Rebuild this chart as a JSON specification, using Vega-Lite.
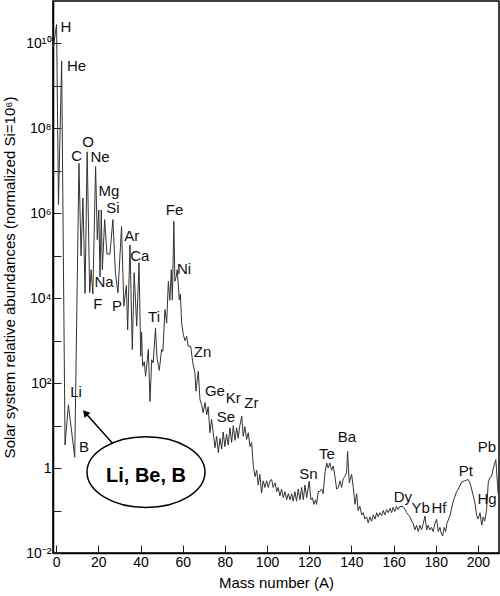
{
  "$schema": "https://vega.github.io/schema/vega-lite/v6.json",
  "width": 446,
  "height": 552,
  "autosize": {"type": "none"},
  "padding": {"left": 53, "top": 1, "right": 1, "bottom": 43},
  "background": "white",
  "config": {
    "view": {"stroke": "#000", "strokeWidth": 1.5},
    "font": "Liberation Sans",
    "axis": {"grid": false, "domainColor": "#000", "domainWidth": 1.5, "tickColor": "#222", "labelColor": "#000", "titleColor": "#000", "labelFont": "Liberation Sans", "titleFont": "Liberation Sans", "titleFontWeight": "normal"}
  },
  "datasets": {
    "curve": [
      {"A": -1.3, "abundance": 8.3e9}, {"A": 0.2, "abundance": 2.8e10}, {"A": 1.1, "abundance": 1.6e6}, {"A": 2.6, "abundance": 3.9e9},
      {"A": 4.2, "abundance": 3.5}, {"A": 5.8, "abundance": 31}, {"A": 8.8, "abundance": 1.8}, {"A": 10.8, "abundance": 1.5e7},
      {"A": 11.8, "abundance": 1e5}, {"A": 12.7, "abundance": 2.3e6}, {"A": 13.7, "abundance": 1.3e4}, {"A": 14.7, "abundance": 2.8e7},
      {"A": 15.9, "abundance": 1.35e4}, {"A": 16.6, "abundance": 4.7e4}, {"A": 17.4, "abundance": 1.26e4}, {"A": 18.7, "abundance": 1.26e7},
      {"A": 19.5, "abundance": 2.4e5}, {"A": 20.2, "abundance": 1.2e6}, {"A": 20.8, "abundance": 3.2e4}, {"A": 21.4, "abundance": 1.2e6},
      {"A": 21.9, "abundance": 4.7e4}, {"A": 23.0, "abundance": 7.1e5}, {"A": 24.1, "abundance": 1.1e5}, {"A": 25.5, "abundance": 1.1e5},
      {"A": 26.9, "abundance": 7.1e5}, {"A": 28.1, "abundance": 4e4}, {"A": 29.3, "abundance": 1.35e4}, {"A": 31.0, "abundance": 4.9e5},
      {"A": 32.1, "abundance": 6.5e3}, {"A": 33.3, "abundance": 2e4}, {"A": 33.9, "abundance": 1.8e3}, {"A": 35.0, "abundance": 1.8e5},
      {"A": 36.1, "abundance": 620}, {"A": 37.0, "abundance": 4e4}, {"A": 38.2, "abundance": 2.2e3}, {"A": 39.3, "abundance": 6.8e4},
      {"A": 40.1, "abundance": 430}, {"A": 40.5, "abundance": 1.6e3}, {"A": 41.0, "abundance": 250}, {"A": 41.8, "abundance": 320},
      {"A": 42.4, "abundance": 145}, {"A": 43.7, "abundance": 620}, {"A": 44.5, "abundance": 37}, {"A": 45.3, "abundance": 355},
      {"A": 46.0, "abundance": 300}, {"A": 47.1, "abundance": 2e3}, {"A": 47.8, "abundance": 400}, {"A": 48.9, "abundance": 200},
      {"A": 50.0, "abundance": 620}, {"A": 50.6, "abundance": 560}, {"A": 51.6, "abundance": 5.4e3}, {"A": 52.4, "abundance": 2.6e3},
      {"A": 53.2, "abundance": 2.5e4}, {"A": 53.9, "abundance": 8.9e3}, {"A": 54.6, "abundance": 4.7e4}, {"A": 55.1, "abundance": 9.1e3},
      {"A": 55.8, "abundance": 6.5e5}, {"A": 56.3, "abundance": 2.5e4}, {"A": 56.9, "abundance": 3.2e4}, {"A": 57.4, "abundance": 4.7e4},
      {"A": 58.4, "abundance": 9.1e3}, {"A": 58.9, "abundance": 1.26e4}, {"A": 59.5, "abundance": 2.6e3}, {"A": 60.3, "abundance": 1.4e3},
      {"A": 61.1, "abundance": 1e3}, {"A": 61.9, "abundance": 1.26e3}, {"A": 62.6, "abundance": 740}, {"A": 63.8, "abundance": 740},
      {"A": 64.7, "abundance": 320}, {"A": 65.8, "abundance": 175}, {"A": 66.3, "abundance": 65}, {"A": 67.4, "abundance": 190},
      {"A": 68.2, "abundance": 41}, {"A": 69.0, "abundance": 31}, {"A": 69.7, "abundance": 20}, {"A": 70.6, "abundance": 35},
      {"A": 71.4, "abundance": 18}, {"A": 72.1, "abundance": 28}, {"A": 72.9, "abundance": 6.8}, {"A": 73.7, "abundance": 14},
      {"A": 74.5, "abundance": 6.8}, {"A": 75.3, "abundance": 3.0}, {"A": 76.1, "abundance": 5.6}, {"A": 76.9, "abundance": 2.3},
      {"A": 77.7, "abundance": 5.0}, {"A": 78.5, "abundance": 2.8}, {"A": 79.2, "abundance": 7.1}, {"A": 80.0, "abundance": 3.2},
      {"A": 80.8, "abundance": 6.3}, {"A": 81.6, "abundance": 3.5}, {"A": 82.4, "abundance": 8.9}, {"A": 83.2, "abundance": 4.0},
      {"A": 84.0, "abundance": 10}, {"A": 84.8, "abundance": 4.5}, {"A": 85.6, "abundance": 8.9}, {"A": 86.3, "abundance": 5.0},
      {"A": 87.1, "abundance": 10}, {"A": 88.0, "abundance": 16.6}, {"A": 88.7, "abundance": 5.6}, {"A": 89.5, "abundance": 9.5},
      {"A": 90.3, "abundance": 4.7}, {"A": 91.1, "abundance": 6.8}, {"A": 91.9, "abundance": 3.2}, {"A": 92.7, "abundance": 4.0},
      {"A": 93.5, "abundance": 1.1}, {"A": 94.3, "abundance": 0.63}, {"A": 95.1, "abundance": 0.89}, {"A": 95.8, "abundance": 0.4},
      {"A": 96.6, "abundance": 0.71}, {"A": 97.4, "abundance": 0.26}, {"A": 98.2, "abundance": 0.5}, {"A": 99.0, "abundance": 0.35},
      {"A": 99.8, "abundance": 0.5}, {"A": 100.6, "abundance": 0.35}, {"A": 101.4, "abundance": 0.5}, {"A": 102.2, "abundance": 0.54},
      {"A": 102.9, "abundance": 0.35}, {"A": 103.8, "abundance": 0.45}, {"A": 104.6, "abundance": 0.28}, {"A": 105.3, "abundance": 0.35},
      {"A": 106.1, "abundance": 0.22}, {"A": 106.9, "abundance": 0.32}, {"A": 107.7, "abundance": 0.2}, {"A": 108.5, "abundance": 0.28},
      {"A": 109.3, "abundance": 0.18}, {"A": 110.1, "abundance": 0.25}, {"A": 110.9, "abundance": 0.18}, {"A": 111.7, "abundance": 0.25},
      {"A": 112.4, "abundance": 0.166}, {"A": 113.2, "abundance": 0.28}, {"A": 114.0, "abundance": 0.166}, {"A": 114.8, "abundance": 0.32},
      {"A": 115.6, "abundance": 0.18}, {"A": 116.4, "abundance": 0.35}, {"A": 117.2, "abundance": 0.18}, {"A": 118.0, "abundance": 0.4},
      {"A": 118.8, "abundance": 0.2}, {"A": 120.0, "abundance": 0.49}, {"A": 120.8, "abundance": 0.18}, {"A": 121.5, "abundance": 0.2},
      {"A": 122.2, "abundance": 0.14}, {"A": 123.0, "abundance": 0.18}, {"A": 123.5, "abundance": 0.14}, {"A": 124.3, "abundance": 0.28},
      {"A": 125.1, "abundance": 0.28}, {"A": 125.9, "abundance": 0.32}, {"A": 126.6, "abundance": 0.25}, {"A": 127.5, "abundance": 0.78},
      {"A": 128.3, "abundance": 1.32}, {"A": 129.0, "abundance": 1.0}, {"A": 129.8, "abundance": 1.32}, {"A": 130.6, "abundance": 0.89},
      {"A": 131.4, "abundance": 1.12}, {"A": 132.2, "abundance": 0.63}, {"A": 133.0, "abundance": 0.32}, {"A": 133.8, "abundance": 0.35},
      {"A": 134.6, "abundance": 0.5}, {"A": 135.4, "abundance": 0.35}, {"A": 136.1, "abundance": 0.56}, {"A": 136.9, "abundance": 0.63},
      {"A": 137.7, "abundance": 0.79}, {"A": 138.2, "abundance": 2.45}, {"A": 139.0, "abundance": 0.45}, {"A": 140.1, "abundance": 0.71},
      {"A": 140.9, "abundance": 0.35}, {"A": 141.7, "abundance": 0.14}, {"A": 142.5, "abundance": 0.25}, {"A": 143.2, "abundance": 0.1},
      {"A": 144.0, "abundance": 0.126}, {"A": 144.9, "abundance": 0.079}, {"A": 145.6, "abundance": 0.089}, {"A": 146.4, "abundance": 0.063},
      {"A": 147.2, "abundance": 0.071}, {"A": 148.0, "abundance": 0.051}, {"A": 148.8, "abundance": 0.071}, {"A": 149.6, "abundance": 0.056},
      {"A": 150.4, "abundance": 0.079}, {"A": 151.2, "abundance": 0.063}, {"A": 152.0, "abundance": 0.089}, {"A": 152.7, "abundance": 0.071},
      {"A": 153.5, "abundance": 0.089}, {"A": 154.3, "abundance": 0.076}, {"A": 155.1, "abundance": 0.1}, {"A": 155.9, "abundance": 0.079},
      {"A": 156.7, "abundance": 0.105}, {"A": 157.5, "abundance": 0.089}, {"A": 158.3, "abundance": 0.112}, {"A": 159.1, "abundance": 0.089},
      {"A": 159.8, "abundance": 0.12}, {"A": 160.6, "abundance": 0.095}, {"A": 161.4, "abundance": 0.126}, {"A": 162.2, "abundance": 0.105},
      {"A": 163.0, "abundance": 0.126}, {"A": 164.6, "abundance": 0.123}, {"A": 165.4, "abundance": 0.107}, {"A": 166.2, "abundance": 0.089},
      {"A": 167.0, "abundance": 0.079}, {"A": 167.8, "abundance": 0.071}, {"A": 168.6, "abundance": 0.056}, {"A": 169.3, "abundance": 0.05},
      {"A": 170.1, "abundance": 0.035}, {"A": 170.9, "abundance": 0.045}, {"A": 171.7, "abundance": 0.032}, {"A": 172.5, "abundance": 0.045},
      {"A": 173.3, "abundance": 0.035}, {"A": 174.1, "abundance": 0.05}, {"A": 174.9, "abundance": 0.074}, {"A": 175.7, "abundance": 0.035},
      {"A": 176.4, "abundance": 0.045}, {"A": 177.2, "abundance": 0.035}, {"A": 178.0, "abundance": 0.04}, {"A": 178.8, "abundance": 0.032},
      {"A": 179.6, "abundance": 0.05}, {"A": 180.4, "abundance": 0.062}, {"A": 181.2, "abundance": 0.032}, {"A": 182.0, "abundance": 0.04},
      {"A": 182.7, "abundance": 0.028}, {"A": 183.3, "abundance": 0.025}, {"A": 184.0, "abundance": 0.04}, {"A": 184.7, "abundance": 0.032},
      {"A": 185.3, "abundance": 0.05}, {"A": 186.7, "abundance": 0.074}, {"A": 188.3, "abundance": 0.166}, {"A": 189.9, "abundance": 0.28},
      {"A": 190.7, "abundance": 0.32}, {"A": 192.3, "abundance": 0.47}, {"A": 193.8, "abundance": 0.5}, {"A": 195.4, "abundance": 0.54},
      {"A": 196.2, "abundance": 0.45}, {"A": 197.0, "abundance": 0.32}, {"A": 197.8, "abundance": 0.22}, {"A": 198.6, "abundance": 0.15},
      {"A": 199.4, "abundance": 0.076}, {"A": 200.1, "abundance": 0.063}, {"A": 201.0, "abundance": 0.089}, {"A": 201.8, "abundance": 0.045},
      {"A": 202.5, "abundance": 0.071}, {"A": 203.2, "abundance": 0.056}, {"A": 204.1, "abundance": 0.1}, {"A": 204.9, "abundance": 0.45},
      {"A": 205.7, "abundance": 0.6}, {"A": 206.5, "abundance": 0.63}, {"A": 207.3, "abundance": 1.0}, {"A": 208.5, "abundance": 1.58},
      {"A": 209.6, "abundance": 0.25}
    ],
    "labels": [
      {"element": "H", "A": 4.6, "abundance": 2.45e10}, {"element": "He", "A": 9.7, "abundance": 2.95e9},
      {"element": "O", "A": 15.1, "abundance": 4.7e7}, {"element": "C", "A": 9.7, "abundance": 2.2e7},
      {"element": "Ne", "A": 20.8, "abundance": 2.1e7}, {"element": "Mg", "A": 25.0, "abundance": 3.4e6},
      {"element": "Si", "A": 26.9, "abundance": 1.3e6}, {"element": "Na", "A": 22.7, "abundance": 2.45e4},
      {"element": "F", "A": 19.8, "abundance": 7.4e3}, {"element": "P", "A": 28.8, "abundance": 6.6e3},
      {"element": "Ar", "A": 35.8, "abundance": 2.95e5}, {"element": "Ca", "A": 39.7, "abundance": 1e5},
      {"element": "Ti", "A": 46.4, "abundance": 3.6e3}, {"element": "Fe", "A": 56.1, "abundance": 1.2e6},
      {"element": "Ni", "A": 60.6, "abundance": 4.9e4}, {"element": "Zn", "A": 69.4, "abundance": 540},
      {"element": "Ge", "A": 75.3, "abundance": 66}, {"element": "Se", "A": 80.5, "abundance": 16},
      {"element": "Kr", "A": 84.0, "abundance": 44}, {"element": "Zr", "A": 92.6, "abundance": 35},
      {"element": "Sn", "A": 119.6, "abundance": 0.74}, {"element": "Te", "A": 128.4, "abundance": 2.2},
      {"element": "Ba", "A": 137.9, "abundance": 5.4}, {"element": "Dy", "A": 164.4, "abundance": 0.21},
      {"element": "Yb", "A": 172.9, "abundance": 0.112}, {"element": "Hf", "A": 181.5, "abundance": 0.112},
      {"element": "Pt", "A": 194.3, "abundance": 0.87}, {"element": "Hg", "A": 204.3, "abundance": 0.19},
      {"element": "Pb", "A": 204.3, "abundance": 3.2}, {"element": "Li", "A": 9.4, "abundance": 63},
      {"element": "B", "A": 13.2, "abundance": 3.2}
    ],
    "callout": [{"text": "Li, Be, B", "A": 42.6, "abundance": 0.805, "textAbundance": 0.66}],
    "arrow": [{"A": 26.6, "abundance": 3.9, "A2": 13.8, "abundance2": 20}]
  },
  "layer": [
    {
      "data": {"name": "curve"},
      "mark": {"type": "line", "color": "#333", "strokeWidth": 1, "interpolate": "linear", "clip": true},
      "encoding": {
        "x": {"field": "A", "type": "quantitative", "sort": null,
          "scale": {"domain": [-1.5, 210], "nice": false, "zero": false},
          "axis": {"title": "Mass number (A)", "titleFontSize": 15, "titlePadding": 6, "labelFontSize": 14, "labelPadding": 10,
            "values": [0, 10, 20, 30, 40, 50, 60, 70, 80, 90, 100, 110, 120, 130, 140, 150, 160, 170, 180, 190, 200],
            "labelExpr": "datum.value % 20 == 0 ? datum.label : ''", "tickSize": -8, "labelFlush": false}},
        "y": {"field": "abundance", "type": "quantitative",
          "scale": {"type": "log", "domain": [0.01, 1e11], "nice": false},
          "axis": {"title": "Solar system relative abundances (normalized Si=10⁶)", "titleFontSize": 15, "labelFontSize": 14, "labelPadding": 10,
            "values": [0.01, 0.1, 1, 10, 100, 1000, 10000, 100000, 1000000, 10000000, 100000000, 1000000000, 10000000000],
            "labelExpr": "datum.value == 1e10 ? '10¹⁰' : datum.value == 1e8 ? '10⁸' : datum.value == 1e6 ? '10⁶' : datum.value == 1e4 ? '10⁴' : datum.value == 100 ? '10²' : datum.value == 1 ? '1' : datum.value == 0.01 ? '10⁻²' : ''",
            "tickSize": -8, "labelFlush": false, "titlePadding": 8}}
      }
    },
    {
      "data": {"name": "labels"},
      "mark": {"type": "text", "fontSize": 15, "font": "Liberation Sans", "color": "#111", "align": "center", "baseline": "middle"},
      "encoding": {
        "x": {"field": "A", "type": "quantitative"},
        "y": {"field": "abundance", "type": "quantitative"},
        "text": {"field": "element"}
      }
    },
    {
      "data": {"name": "arrow"},
      "mark": {"type": "rule", "color": "#000", "strokeWidth": 1.5},
      "encoding": {
        "x": {"field": "A", "type": "quantitative"},
        "y": {"field": "abundance", "type": "quantitative"},
        "x2": {"field": "A2"},
        "y2": {"field": "abundance2"}
      }
    },
    {
      "data": {"name": "arrow"},
      "mark": {"type": "point", "shape": "triangle-up", "filled": true, "color": "#000", "size": 60, "angle": 318, "opacity": 1},
      "encoding": {
        "x": {"field": "A2", "type": "quantitative"},
        "y": {"field": "abundance2", "type": "quantitative"}
      }
    },
    {
      "data": {"name": "callout"},
      "mark": {"type": "point", "shape": "M -1 0 A 1 0.6 0 1 1 1 0 A 1 0.6 0 1 1 -1 0 Z", "filled": true, "fill": "white", "stroke": "#000", "strokeWidth": 1.5, "size": 13924, "opacity": 1},
      "encoding": {
        "x": {"field": "A", "type": "quantitative"},
        "y": {"field": "abundance", "type": "quantitative"}
      }
    },
    {
      "data": {"name": "callout"},
      "mark": {"type": "text", "fontSize": 20, "fontWeight": "bold", "font": "Liberation Sans", "color": "#000", "align": "center", "baseline": "middle"},
      "encoding": {
        "x": {"field": "A", "type": "quantitative"},
        "y": {"field": "textAbundance", "type": "quantitative"},
        "text": {"field": "text"}
      }
    }
  ]
}
